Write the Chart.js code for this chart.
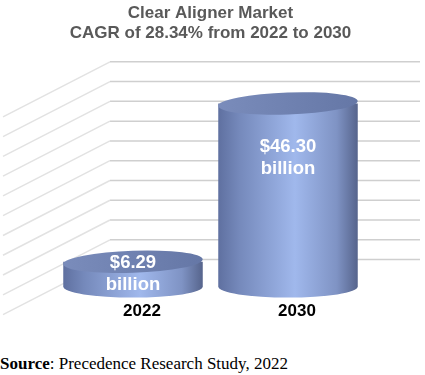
<!DOCTYPE html>
<html>
<head>
<meta charset="utf-8">
<script src="https://cdn.jsdelivr.net/npm/chart.js@4.4.1/dist/chart.umd.min.js"></script>
<style>
  body { margin: 0; background: #fff; }
  #wrap { position: relative; width: 425px; height: 375px; overflow: hidden; }
  #chart { position: absolute; left: 0; top: 0; }
  #source {
    position: absolute; left: 0; top: 354px;
    font-family: "Liberation Serif", "Times New Roman", serif;
    font-size: 17px; color: #000; white-space: nowrap;
  }
</style>
</head>
<body>
<div id="wrap">
  <canvas id="chart" width="425" height="340"></canvas>
  <div id="source"><b>Source</b>: Precedence Research Study, 2022</div>
</div>
<script>
// chart data
var years = ["2022", "2030"];
var marketSize = [6.29, 46.30];          // USD billion
var valueLabels = [["$6.29", "billion"], ["$46.30", "billion"]];
var titleLines = ["Clear Aligner Market", "CAGR of 28.34% from 2022 to 2030"];
var gridSteps = [0, 5, 10, 15, 20, 25, 30, 35, 40, 45, 50];

// back wall + side wall grid, drawn like an old 3D office chart
var wallGrid = {
  id: 'wallGrid',
  beforeDatasetsDraw: function(chart) {
    var ctx = chart.ctx, area = chart.chartArea, y = chart.scales.y;
    ctx.save();
    ctx.lineWidth = 1.5;
    gridSteps.forEach(function(v) {
      var py = y.getPixelForValue(v) - 27;
      ctx.strokeStyle = '#cfcfcf';
      ctx.beginPath();
      ctx.moveTo(area.left + 54.5, py);
      ctx.lineTo(area.right + 54.5, py);
      ctx.stroke();
      ctx.strokeStyle = '#e2e2e2';
      ctx.beginPath();
      ctx.moveTo(area.left + 54.5, py);
      ctx.lineTo(area.left - 52.5, py + 55);
      ctx.stroke();
    });
    ctx.restore();
  }
};

// cylinders in place of the flat bars
var cylinders = {
  id: 'cylinders',
  afterDatasetsDraw: function(chart) {
    var ctx = chart.ctx;
    var meta = chart.getDatasetMeta(0);
    meta.data.forEach(function(bar, i) {
      var rx = bar.width / 2, ry = 11;
      var x = bar.x, top = bar.y, base = bar.base;
      var g = ctx.createLinearGradient(x - rx, 0, x + rx, 0);
      g.addColorStop(0, '#5f70a0');
      g.addColorStop(0.15, '#7589bb');
      g.addColorStop(0.55, '#a0b8ec');
      g.addColorStop(0.85, '#7f93c4');
      g.addColorStop(1, '#56648c');
      ctx.save();
      ctx.fillStyle = g;
      ctx.beginPath();
      ctx.moveTo(x - rx, top);
      ctx.lineTo(x - rx, base);
      ctx.ellipse(x, base, rx, ry, 0, Math.PI, 0, true);
      ctx.lineTo(x + rx, top);
      ctx.closePath();
      ctx.fill();
      // top face
      var tg = ctx.createLinearGradient(x - rx, 0, x + rx, 0);
      tg.addColorStop(0, '#7a8cbb');
      tg.addColorStop(1, '#6577a6');
      ctx.fillStyle = tg;
      ctx.beginPath();
      ctx.ellipse(x, top, rx, ry, -0.035, 0, Math.PI * 2);
      ctx.fill();
      // value label
      ctx.fillStyle = '#ffffff';
      ctx.font = 'bold 18.5px "Liberation Sans", Arial, sans-serif';
      ctx.textAlign = 'center';
      ctx.textBaseline = 'middle';
      var ly = (base - top) > 60 ? top + 43 : (top + base) / 2 - 11;
      ctx.fillText(valueLabels[i][0], x, ly);
      ctx.fillText(valueLabels[i][1], x, ly + 22);
      ctx.restore();
    });
  }
};

new Chart(document.getElementById('chart'), {
  type: 'bar',
  data: {
    labels: years,
    datasets: [{
      label: 'Market size',
      data: marketSize,
      backgroundColor: 'rgba(0,0,0,0)',
      borderWidth: 0,
      categoryPercentage: 1,
      barPercentage: 0.9
    }]
  },
  options: {
    responsive: false,
    animation: false,
    layout: { padding: { left: 55.5, right: 59.5, top: 0, bottom: 11 } },
    plugins: {
      legend: { display: false },
      tooltip: { enabled: false },
      title: {
        display: true,
        text: titleLines,
        color: '#595959',
        font: { family: '"Liberation Sans", Arial, sans-serif', size: 17, weight: 'bold', lineHeight: 1.2 },
        padding: { top: 3, bottom: 45 }
      }
    },
    scales: {
      x: {
        grid: { display: false },
        border: { display: false },
        ticks: {
          color: '#000',
          padding: 7,
          labelOffset: 9,
          font: { family: '"Liberation Sans", Arial, sans-serif', size: 17, weight: 'bold' }
        }
      },
      y: {
        display: false,
        min: 0,
        max: 50
      }
    }
  },
  plugins: [wallGrid, cylinders]
});
</script>
</body>
</html>
